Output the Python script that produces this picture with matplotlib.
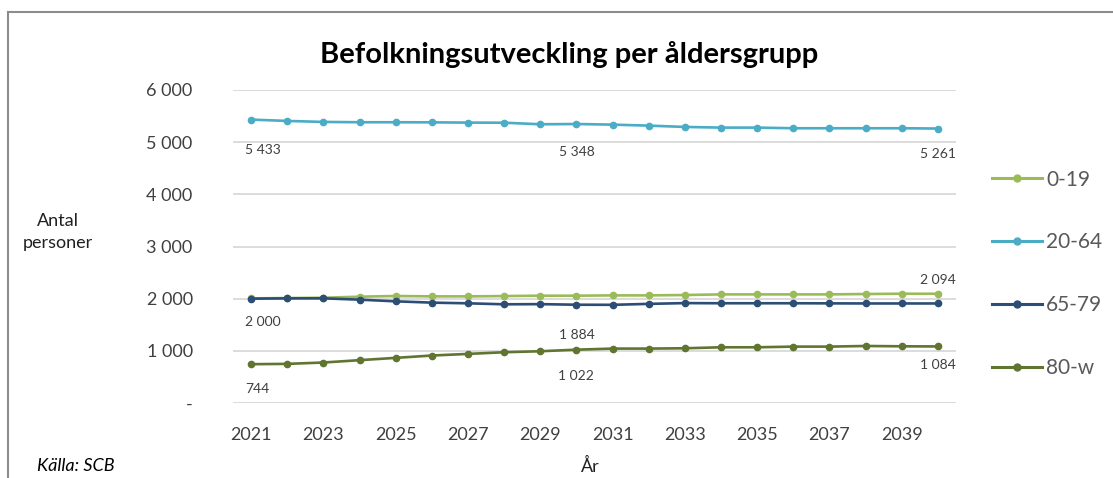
import matplotlib
matplotlib.use("Agg")
import matplotlib.pyplot as plt
from matplotlib.lines import Line2D

years = list(range(2021, 2041))
series_names = ["0-19", "20-64", "65-79", "80-w"]
v_0_19 = [2005, 2012, 2018, 2038, 2051, 2044, 2044, 2050, 2057, 2057, 2063, 2063, 2070, 2082, 2082, 2082, 2082, 2089, 2095, 2094]
v_20_64 = [5433, 5407, 5388, 5382, 5382, 5380, 5375, 5373, 5343, 5348, 5336, 5317, 5292, 5279, 5279, 5267, 5267, 5267, 5267, 5261]
v_65_79 = [2000, 2006, 2006, 1981, 1949, 1924, 1911, 1892, 1895, 1884, 1882, 1900, 1915, 1912, 1912, 1912, 1910, 1908, 1908, 1908]
v_80_w = [744, 750, 776, 821, 865, 910, 941, 973, 992, 1022, 1043, 1043, 1049, 1068, 1068, 1081, 1081, 1093, 1087, 1084]
yticks = [0, 1000, 2000, 3000, 4000, 5000, 6000]
ytick_labels = ["-", "1 000", "2 000", "3 000", "4 000", "5 000", "6 000"]
# labelled points: (series index, year index, offset px, align)
label_points = [
    (1, 0, -30, "left"), (1, 9, -28, "center"), (1, 19, -25, "center"),
    (0, 19, 14, "center"),
    (2, 0, -23, "left"), (2, 9, -30, "center"),
    (3, 0, -25, "left"), (3, 9, -26, "center"), (3, 19, -19, "center"),
]

colors = ["#9BBB59", "#4BACC6", "#2C4D75", "#5F7530"]
data = [v_0_19, v_20_64, v_65_79, v_80_w]

plt.rcParams["font.family"] = ["Lato", "DejaVu Sans"]
fig = plt.figure(figsize=(11.13, 4.78), dpi=100)
W, H = 1113, 478
ax = fig.add_axes([233 / W, 1 - 403 / H, (956 - 233) / W, (403 - 90) / H])

x = list(range(len(years)))
for vals, c in zip(data, colors):
    ax.plot(x, vals, color=c, lw=1.9, marker="o", ms=4.5, zorder=3)

ax.set_xlim(-0.5, len(years) - 0.5)
ax.set_ylim(0, 6000)
ax.set_yticks(yticks)
ax.set_yticklabels(ytick_labels)
ax.set_xticks(x[::2])
ax.set_xticklabels([str(y) for y in years[::2]])
ax.grid(axis="y", color="#D9D9D9", lw=1.3, zorder=0)
ax.set_axisbelow(True)
for s in ax.spines.values():
    s.set_visible(False)
ax.tick_params(axis="both", length=0, colors="#595959", labelsize=13)
ax.tick_params(axis="y", pad=29)
ax.tick_params(axis="x", pad=17)
for t in ax.get_yticklabels() + ax.get_xticklabels():
    t.set_color("#404040")

def fmt(v):
    return f"{v:,}".replace(",", " ")

for si, yi, off, ha in label_points:
    v = data[si][yi]
    dx = -6 if ha == "left" else 0
    ax.annotate(fmt(v), (x[yi], v), xytext=(dx * 0.72, off * 0.72), textcoords="offset points",
                ha=ha, va="center", fontsize=10, color="#404040")

fig.text(569 / W, 1 - 55 / H, "Befolkningsutveckling per åldersgrupp", ha="center", va="center",
         fontsize=21, fontweight="bold", color="black")
fig.text(58 / W, 1 - 232 / H, "Antal\npersoner", ha="center", va="center", fontsize=13,
         color="#202020", linespacing=1.45)
fig.text(590 / W, 1 - 466 / H, "År", ha="center", va="center", fontsize=13, color="#202020")
fig.text(37 / W, 1 - 466 / H, "Källa: SCB", ha="left", va="center", fontsize=13, style="italic",
         color="black")

handles = [Line2D([0], [0], color=c, lw=2.2, marker="o", ms=5) for c in colors]
leg = fig.legend(handles, series_names, loc="upper left", bbox_to_anchor=(973 / W, 1 - 151 / H),
                 frameon=False, fontsize=15, labelcolor="#595959", handlelength=2.4,
                 handletextpad=0.2, labelspacing=2.05)

# frame lines (top and left)
fig.add_artist(Line2D([7.5 / W, 1], [1 - 12 / H, 1 - 12 / H], transform=fig.transFigure,
                      color="#8C8C8C", lw=1.5))
fig.add_artist(Line2D([7.5 / W, 7.5 / W], [0, 1 - 12 / H], transform=fig.transFigure,
                      color="#8C8C8C", lw=1.5))

fig.savefig("out.png", dpi=100, facecolor="white")
